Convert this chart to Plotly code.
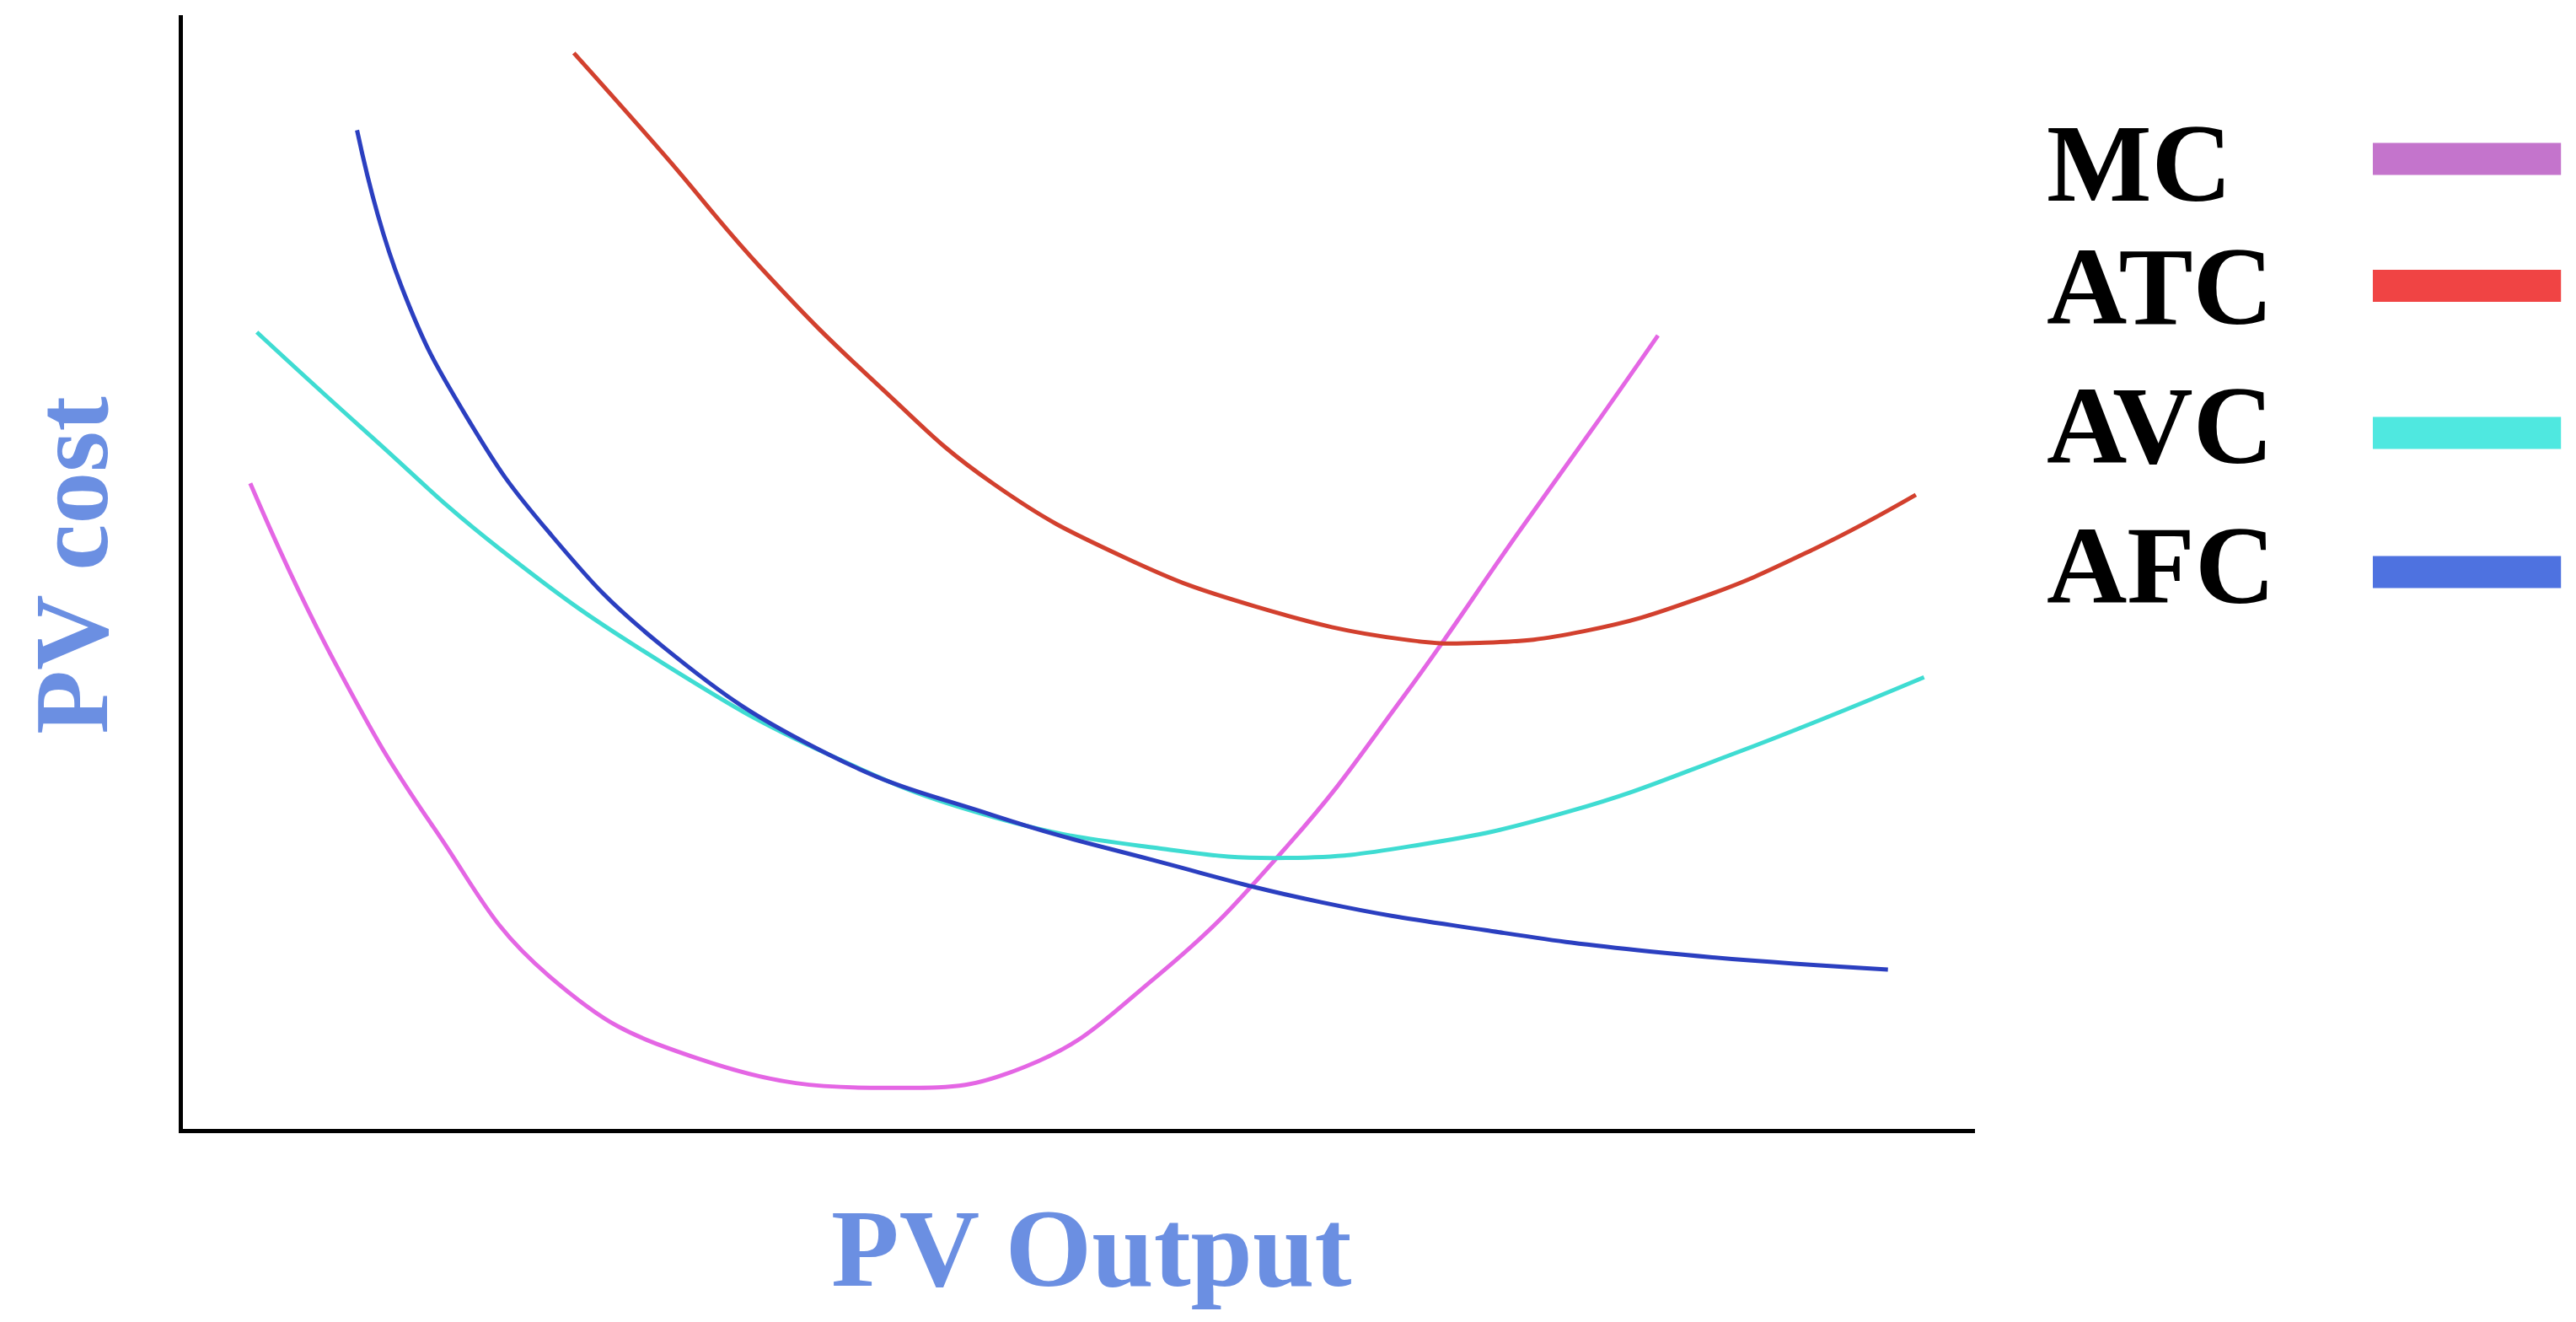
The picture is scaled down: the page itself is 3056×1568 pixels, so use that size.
import plotly.graph_objects as go

# curve points (x = output, y = cost, arbitrary units)
mc_x = [148, 200, 260, 330, 420, 540, 620, 700, 780, 850, 920, 970, 1005]
mc_y = [393, 283, 183, 93, 43, 25, 38, 93, 173, 263, 363, 433, 483]
atc_x = [345, 400, 460, 530, 600, 680, 760, 850, 900, 960, 1030, 1100, 1162]
atc_y = [655, 593, 523, 453, 393, 348, 318, 298, 296, 303, 323, 353, 386]
avc_x = [152, 220, 300, 400, 500, 600, 700, 780, 860, 950, 1050, 1167]
avc_y = [485, 423, 353, 283, 228, 190, 171, 165, 173, 193, 228, 275]
afc_x = [213, 240, 280, 330, 400, 500, 600, 700, 800, 900, 1000, 1145]
afc_y = [608, 513, 433, 363, 293, 228, 191, 163, 138, 121, 108, 97]

names = ["MC", "ATC", "AVC", "AFC"]
curve_colors = ["#e466e4", "#d2402e", "#3fdcd2", "#2b3fc0"]
legend_colors = ["#c474cc", "#f04444", "#4fe8e0", "#4e72e0"]

W, H = 3056, 1568
L, R, T, B = 209, 2335, 10, 1331

fig = go.Figure()
for name, xs, ys, c in zip(names, [mc_x, atc_x, avc_x, afc_x],
                           [mc_y, atc_y, avc_y, afc_y], curve_colors):
    fig.add_scatter(x=xs, y=ys, mode="lines", name=name,
                    line=dict(color=c, width=5, shape="spline", smoothing=1.3))

ax = dict(showline=True, linecolor="black", linewidth=5, showgrid=False,
          zeroline=False, showticklabels=False, ticks="")
fig.update_layout(
    width=W, height=H, showlegend=False,
    plot_bgcolor="white", paper_bgcolor="white",
    margin=dict(l=L, r=W - R, t=T, b=H - B),
    xaxis=dict(range=[107, 1198], **ax),
    yaxis=dict(range=[0, 678], **ax),
)

serif = "Liberation Serif, Times New Roman, serif"
text_y = [0.867, 0.757, 0.632, 0.506]
line_y = [0.871, 0.757, 0.625, 0.500]
for name, ty, ly, c in zip(names, text_y, line_y, legend_colors):
    fig.add_annotation(text="<b>%s</b>" % name, xref="paper", yref="paper",
                       x=1.039, y=ty, xanchor="left", yanchor="middle",
                       showarrow=False, font=dict(family=serif, size=132, color="black"))
    fig.add_shape(type="line", xref="paper", yref="paper",
                  x0=1.222, x1=1.327, y0=ly, y1=ly,
                  line=dict(color=c, width=38))

blue = "#6b8fe2"
fig.add_annotation(text="<b>PV Output</b>", xref="paper", yref="paper",
                   x=0.507, y=-0.107, xanchor="center", yanchor="middle",
                   showarrow=False, font=dict(family=serif, size=132, color=blue))
fig.add_annotation(text="<b>PV cost</b>", xref="paper", yref="paper",
                   x=-0.062, y=0.506, xanchor="center", yanchor="middle", textangle=-90,
                   showarrow=False, font=dict(family=serif, size=124, color=blue))

fig.write_html("out.html")
